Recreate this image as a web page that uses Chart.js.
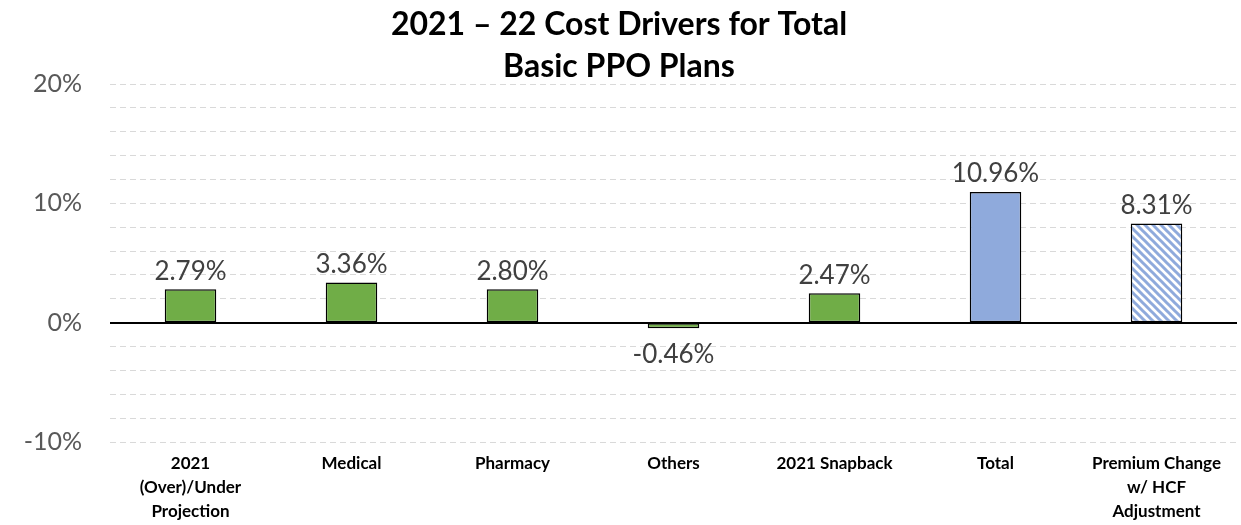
<!DOCTYPE html>
<html lang="en">
<head>
    <meta charset="UTF-8">
    <title>2021 – 22 Cost Drivers</title>
    <script src="https://cdn.jsdelivr.net/npm/chart.js"></script>
    <style>
        body { margin: 0; background: #fff; }
        #wrap { width: 1241px; height: 525px; position: relative; }
    </style>
</head>
<body>
<div id="wrap"><canvas id="costChart"></canvas></div>
<script>
    // values
    const categories = [
        ['2021', '(Over)/Under', 'Projection'],
        'Medical',
        'Pharmacy',
        'Others',
        '2021 Snapback',
        'Total',
        ['Premium Change', 'w/ HCF', 'Adjustment']
    ];
    const drivers = [2.79, 3.36, 2.80, -0.46, 2.47, 10.96, 8.31];
    const yTicks = [-10, 0, 10, 20];
    const titleLines = ['2021 – 22 Cost Drivers for Total', 'Basic PPO Plans'];

    const green = '#70ad47';
    const blue = '#8faadc';

    function hatch() {
        const c = document.createElement('canvas');
        c.width = 8; c.height = 8;
        const g = c.getContext('2d');
        g.fillStyle = '#fff';
        g.fillRect(0, 0, 8, 8);
        g.strokeStyle = blue;
        g.lineWidth = 3;
        g.beginPath();
        g.moveTo(-2, -2); g.lineTo(10, 10);
        g.moveTo(-2, 6); g.lineTo(2, 10);
        g.moveTo(6, -2); g.lineTo(10, 2);
        g.stroke();
        return g.createPattern(c, 'repeat');
    }

    const fills = drivers.map((v, i) => i === 5 ? blue : (i === 6 ? hatch() : green));

    const titlePlugin = {
        id: 'twoLineTitle',
        afterDraw(chart) {
            const ctx = chart.ctx;
            ctx.save();
            ctx.fillStyle = '#000';
            ctx.font = 'bold 32px Lato, "Open Sans", sans-serif';
            ctx.textAlign = 'center';
            ctx.textBaseline = 'middle';
            ctx.fillText(titleLines[0], 619, 25);
            ctx.fillText(titleLines[1], 619, 67);
            ctx.restore();
        }
    };

    const zeroLine = {
        id: 'zeroLine',
        beforeDatasetsDraw(chart) {
            const ctx = chart.ctx;
            const y = Math.round(chart.scales.y.getPixelForValue(0));
            ctx.save();
            ctx.strokeStyle = '#000';
            ctx.lineWidth = 2;
            ctx.beginPath();
            ctx.moveTo(chart.chartArea.left, y);
            ctx.lineTo(chart.chartArea.right, y);
            ctx.stroke();
            ctx.restore();
        }
    };

    const valueLabels = {
        id: 'valueLabels',
        afterDatasetsDraw(chart) {
            const ctx = chart.ctx;
            const meta = chart.getDatasetMeta(0);
            ctx.save();
            ctx.fillStyle = '#404040';
            ctx.font = '26px Lato, "Open Sans", sans-serif';
            ctx.textAlign = 'center';
            meta.data.forEach((bar, i) => {
                const v = drivers[i];
                if (v >= 0) {
                    ctx.textBaseline = 'bottom';
                    ctx.fillText(v.toFixed(2) + '%', bar.x, bar.y - 5);
                } else {
                    ctx.textBaseline = 'top';
                    ctx.fillText(v.toFixed(2) + '%', bar.x, bar.y + 13);
                }
            });
            ctx.restore();
        }
    };

    new Chart(document.getElementById('costChart'), {
        type: 'bar',
        data: {
            labels: categories,
            datasets: [{
                data: drivers,
                backgroundColor: fills,
                borderColor: '#000',
                borderWidth: 1.5,
                borderSkipped: false,
                barPercentage: 0.32,
                categoryPercentage: 1
            }]
        },
        options: {
            responsive: true,
            maintainAspectRatio: false,
            animation: false,
            layout: { padding: { top: 84, right: 4, left: 0, bottom: 0 } },
            plugins: {
                legend: { display: false },
                title: { display: false },
                tooltip: { enabled: false }
            },
            scales: {
                x: {
                    afterFit(scale) { scale.height = 83; },
                    grid: { display: false },
                    border: { display: false },
                    ticks: {
                        color: '#000',
                        padding: 2,
                        maxRotation: 0,
                        autoSkip: false,
                        font: { family: 'Lato, "Open Sans", sans-serif', size: 17, weight: 'bold', lineHeight: 1.4 }
                    }
                },
                y: {
                    min: -10,
                    max: 20,
                    afterFit(scale) { scale.width = 110; },
                    afterBuildTicks(scale) {
                        const t = [];
                        for (let v = -10; v <= 20; v += 2) t.push({ value: v });
                        scale.ticks = t;
                    },
                    grid: {
                        color: '#d9d9d9',
                        lineWidth: 1,
                        drawTicks: false
                    },
                    border: { display: false, dash: [6, 4] },
                    ticks: {
                        color: '#595959',
                        padding: 28,
                        autoSkip: false,
                        font: { family: 'Lato, "Open Sans", sans-serif', size: 25 },
                        callback: v => yTicks.includes(v) ? v + '%' : ''
                    }
                }
            }
        },
        plugins: [titlePlugin, zeroLine, valueLabels]
    });
</script>
</body>
</html>
